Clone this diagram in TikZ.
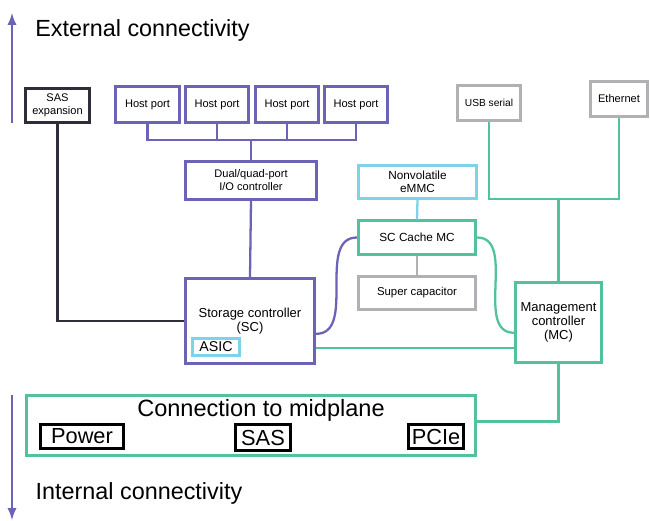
\documentclass[tikz,border=0pt]{standalone}
\usepackage{fontspec}
\setmainfont{Liberation Sans}
\definecolor{pur}{HTML}{6B63B5}
\definecolor{teal2}{HTML}{52C29E}
\definecolor{lblue}{HTML}{7ED2EA}
\definecolor{gry}{HTML}{B0B0B5}
\definecolor{dark}{HTML}{2E2E3A}
\begin{document}
\begin{tikzpicture}[x=0.02cm,y=-0.02cm]
\tikzstyle{every node}+=[inner sep=0pt]
\tikzstyle{box}=[draw, line width=1.5pt, fill=white, align=center, font=\fontsize{6.3}{7.4}\selectfont]
\tikzstyle{bigbox}=[box, font=\fontsize{7.4}{8}\selectfont]
\tikzstyle{tag}=[draw=black, line width=1.5pt, font=\fontsize{12.4}{14}\selectfont]
\tikzstyle{wire}=[line width=1.3pt]
\tikzstyle{head}=[font=\fontsize{13.3}{15}\selectfont]
\useasboundingbox (0,0) rectangle (650,521);
\coordinate (uptop) at (12,13);
\coordinate (upbot) at (12,123);
\coordinate (dntop) at (12,395);
\coordinate (dnbot) at (12,520);
\draw [pur, wire, -latex] (upbot) -- (uptop);
\draw [pur, wire, -latex] (dntop) -- (dnbot);
\node [head] (ext) at (142.5,30) {External connectivity};
\node [head] (int) at (139,493) {Internal connectivity};
\node [box, draw=dark, minimum width=1.29cm, minimum height=0.69cm] (sasx) at (57.5,105.5) {SAS\\expansion};
\node [box, draw=pur, minimum width=1.27cm, minimum height=0.71cm] (hp1) at (147.5,104.5) {Host port};
\node [box, draw=pur, minimum width=1.27cm, minimum height=0.71cm] (hp2) at (217,104.5) {Host port};
\node [box, draw=pur, minimum width=1.27cm, minimum height=0.71cm] (hp3) at (287,104.5) {Host port};
\node [box, draw=pur, minimum width=1.27cm, minimum height=0.71cm] (hp4) at (356,104.5) {Host port};
\node [box, draw=pur, minimum width=2.63cm, minimum height=0.77cm] (dual) at (251,180.5) {Dual/quad-port\\I/O controller};
\node [bigbox, draw=pur, minimum width=2.59cm, minimum height=1.71cm] (sc) at (250,321) {Storage controller\\(SC)};
\node [draw=lblue, line width=1.5pt, fill=white, minimum width=0.95cm, minimum height=0.35cm, font=\fontsize{8.1}{9}\selectfont] (asic) at (216,347) {ASIC};
\node [box, draw=lblue, minimum width=2.37cm, minimum height=0.67cm, font=\fontsize{6.7}{7.4}\selectfont] (emmc) at (417.5,182) {Nonvolatile\\eMMC};
\node [box, draw=teal2, minimum width=2.35cm, minimum height=0.67cm, font=\fontsize{6.7}{7.4}\selectfont] (cache) at (417,237.5) {SC Cache MC};
\node [box, draw=gry, minimum width=2.35cm, minimum height=0.67cm, font=\fontsize{6.5}{7.4}\selectfont] (supcap) at (417,293) {Super capacitor};
\node [box, draw=gry, minimum width=1.27cm, minimum height=0.71cm, font=\fontsize{5.8}{7}\selectfont] (usb) at (489,103) {USB serial};
\node [box, draw=gry, minimum width=1.15cm, minimum height=0.71cm] (eth) at (619,99) {Ethernet};
\node [bigbox, draw=teal2, minimum width=1.73cm, minimum height=1.61cm] (mc) at (558.5,322.5) {Management\\controller\\(MC)};
\node [draw=teal2, line width=1.5pt, minimum width=8.99cm, minimum height=1.21cm] (mid) at (251,425.5) {};
\node [font=\fontsize{13.4}{15}\selectfont] (midtxt) at (261,410) {Connection to midplane};
\node [tag, minimum width=1.67cm, minimum height=0.49cm] (power) at (82,436.5) {Power};
\node [tag, minimum width=1.11cm, minimum height=0.53cm] (sas) at (263,437.5) {SAS};
\node [tag, minimum width=1.11cm, minimum height=0.49cm] (pcie) at (436,436.5) {PCIe};
\coordinate (bus) at (251,140);
\coordinate (mgbus) at (558.5,199);
\draw [dark, wire] (sasx.south) |- (sc.west);
\draw [pur, wire] (hp1.south) |- (bus) -| (hp4.south);
\draw [pur, wire] (hp2.south) -- (hp2.south |- bus);
\draw [pur, wire] (hp3.south) -- (hp3.south |- bus);
\draw [pur, wire] (bus) -- (dual.north);
\draw [pur, wire] (dual.south) -- (sc.north);
\draw [lblue, wire] (emmc.south) -- (cache.north);
\draw [gry, wire] (cache.south) -- (supcap.north);
\draw [pur, wire] (cache.west) to[out=180, in=0] (sc.-11);
\draw [teal2, wire] (cache.east) to[out=0, in=180] (mc.193);
\draw [teal2, wire] (sc.-22) -- (sc.-22 -| mc.west);
\draw [teal2, wire] (usb.south) |- (mgbus) -| (eth.south);
\draw [teal2, wire] (mgbus) -- (mc.north);
\draw [teal2, wire] (mc.south) |- (mid.1.6);
\end{tikzpicture}
\end{document}
